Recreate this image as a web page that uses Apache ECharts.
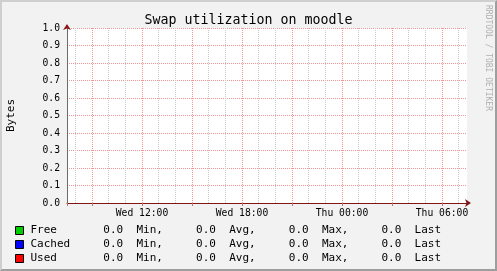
<!DOCTYPE html>
<html>
<head>
<meta charset="utf-8">
<script src="https://cdn.jsdelivr.net/npm/echarts@6/dist/echarts.min.js"></script>
<style>
  html, body { margin: 0; padding: 0; background: #F2F2F2; }
  #wrap { position: relative; width: 497px; height: 271px; }
  #chart { position: absolute; left: 0; top: 0; width: 497px; height: 271px; }
  #frame { position: absolute; left: 0; top: 0; width: 497px; height: 271px; box-sizing: border-box;
           border-style: solid; border-width: 2px; border-color: #CFCFCF #9E9E9E #9E9E9E #CFCFCF; pointer-events: none; }
</style>
</head>
<body>
<div id="wrap"><div id="chart"></div><div id="frame"></div></div>
<script>
// ---- data (hours since Wed 00:00) ----
const hours = [7.5, 9, 12, 15, 18, 21, 24, 27, 30, 31.5];
const freeValues   = [0, 0, 0, 0, 0, 0, 0, 0, 0, 0];
const cachedValues = [0, 0, 0, 0, 0, 0, 0, 0, 0, 0];
const usedValues   = [0, 0, 0, 0, 0, 0, 0, 0, 0, 0];

const seriesNames  = ['Free', 'Cached', 'Used'];
const seriesColors = ['#00CC00', '#0000FF', '#FF0000'];
const statMin  = [0.0, 0.0, 0.0];
const statAvg  = [0.0, 0.0, 0.0];
const statMax  = [0.0, 0.0, 0.0];
const statLast = [0.0, 0.0, 0.0];

// ---- axis ticks ----
const xStart = 7.5, xEnd = 31.5;
const majorHours = [7.5, 9, 12, 15, 18, 21, 24, 27, 30];
const labelHours = [12, 18, 24, 30];
const minorHours = [8, 10, 11, 13, 14, 16, 17, 19, 20, 22, 23, 25, 26, 28, 29, 31];

const FONT = "'DejaVu Sans Mono', monospace";
const MGRID = '#F09494';
const GRID = '#C8C8C8';

function pad(s, n, right) { s = String(s); while (s.length < n) s = right ? ' ' + s : s + ' '; return s; }
function fmtHour(h) {
  const day = h < 24 ? 'Wed' : 'Thu';
  const hh = Math.floor(h % 24);
  return day + ' ' + (hh < 10 ? '0' : '') + hh + ':00';
}

const chart = echarts.init(document.getElementById('chart'), null, { renderer: 'canvas' });
const dataSets = [freeValues, cachedValues, usedValues];

chart.setOption({
  backgroundColor: '#F2F2F2',
  animation: false,
  title: {
    text: 'Swap utilization on moodle',
    left: 'center', top: 14, padding: 0,
    textStyle: { fontFamily: FONT, fontSize: 13.3, fontWeight: 'normal', color: '#000' }
  },
  grid: { left: 67, right: 30, top: 28, bottom: 68, show: true, backgroundColor: '#FFFFFF', borderWidth: 0,
          containLabel: false, outerBoundsMode: 'none' },
  legend: {
    orient: 'vertical', left: 15, top: 225, padding: 0,
    itemWidth: 8, itemHeight: 8, itemGap: 3,
    icon: 'rect', selectedMode: false,
    itemStyle: { borderColor: '#000', borderWidth: 1 },
    textStyle: { fontFamily: FONT, fontSize: 11, lineHeight: 11, color: '#000', padding: [0, 0, 0, 2] },
    data: seriesNames,
    formatter: function (name) {
      const i = seriesNames.indexOf(name);
      return pad(name, 8) + pad(statMin[i].toFixed(1), 6, true) + '  Min,' +
        pad(statAvg[i].toFixed(1), 8, true) + '  Avg,' +
        pad(statMax[i].toFixed(1), 8, true) + '  Max,' +
        pad(statLast[i].toFixed(1), 8, true) + '  Last';
    }
  },
  xAxis: [
    {
      type: 'value', min: xStart, max: xEnd,
      axisLine: { show: true, symbol: ['none', 'arrow'], symbolSize: [6, 6], symbolOffset: [0, 4],
                  lineStyle: { color: '#7F1515', width: 1 } },
      axisTick: { show: true, inside: false, length: 3, customValues: majorHours, lineStyle: { color: '#C07070' } },
      axisLabel: { show: true, customValues: labelHours, margin: 5, fontFamily: FONT, fontSize: 9.7, color: '#000',
                   formatter: function (v) { return fmtHour(v); } },
      splitLine: { show: true, lineStyle: { color: MGRID, type: [1, 1], width: 1 } }
    },
    {
      type: 'value', min: xStart, max: xEnd, position: 'bottom',
      axisLine: { show: false },
      axisTick: { show: false, customValues: minorHours },
      axisLabel: { show: false },
      splitLine: { show: true, lineStyle: { color: GRID, type: [1, 1], width: 1 } }
    }
  ],
  yAxis: [
    {
      type: 'value', min: 0, max: 1, interval: 0.1,
      name: 'Bytes', nameLocation: 'middle', nameRotate: 90, nameGap: 50,
      nameTextStyle: { fontFamily: FONT, fontSize: 11, color: '#000' },
      axisLine: { show: true, lineStyle: { color: '#6A6A6A', width: 1 } },
      axisTick: { show: false },
      axisLabel: { margin: 7, fontFamily: FONT, fontSize: 9.7, color: '#000',
                   formatter: function (v) { return v.toFixed(1); } },
      splitLine: { show: true, lineStyle: { color: MGRID, type: [1, 1], width: 1 } }
    },
    {
      type: 'value', min: 0, max: 1, interval: 0.1, position: 'left',
      axisLine: { show: true, symbol: ['none', 'arrow'], symbolSize: [6, 6], symbolOffset: [0, 4],
                  lineStyle: { color: '#8B1A1A', width: 0 } },
      axisTick: { show: false }, axisLabel: { show: false }, splitLine: { show: false }
    }
  ],
  graphic: [
    {
      type: 'text', x: 488, y: 5, rotation: -Math.PI / 2,
      style: { text: 'RRDTOOL / TOBI OETIKER', fontFamily: FONT, fontSize: 8, fill: '#B0B0B0',
               align: 'left', verticalAlign: 'middle' }
    }
  ],
  series: seriesNames.map(function (name, i) {
    return {
      name: name, type: 'line', xAxisIndex: 0, yAxisIndex: 0,
      data: hours.map(function (h, k) { return [h, dataSets[i][k]]; }),
      showSymbol: false, color: seriesColors[i],
      lineStyle: { width: 0 }
    };
  })
});
</script>
</body>
</html>
